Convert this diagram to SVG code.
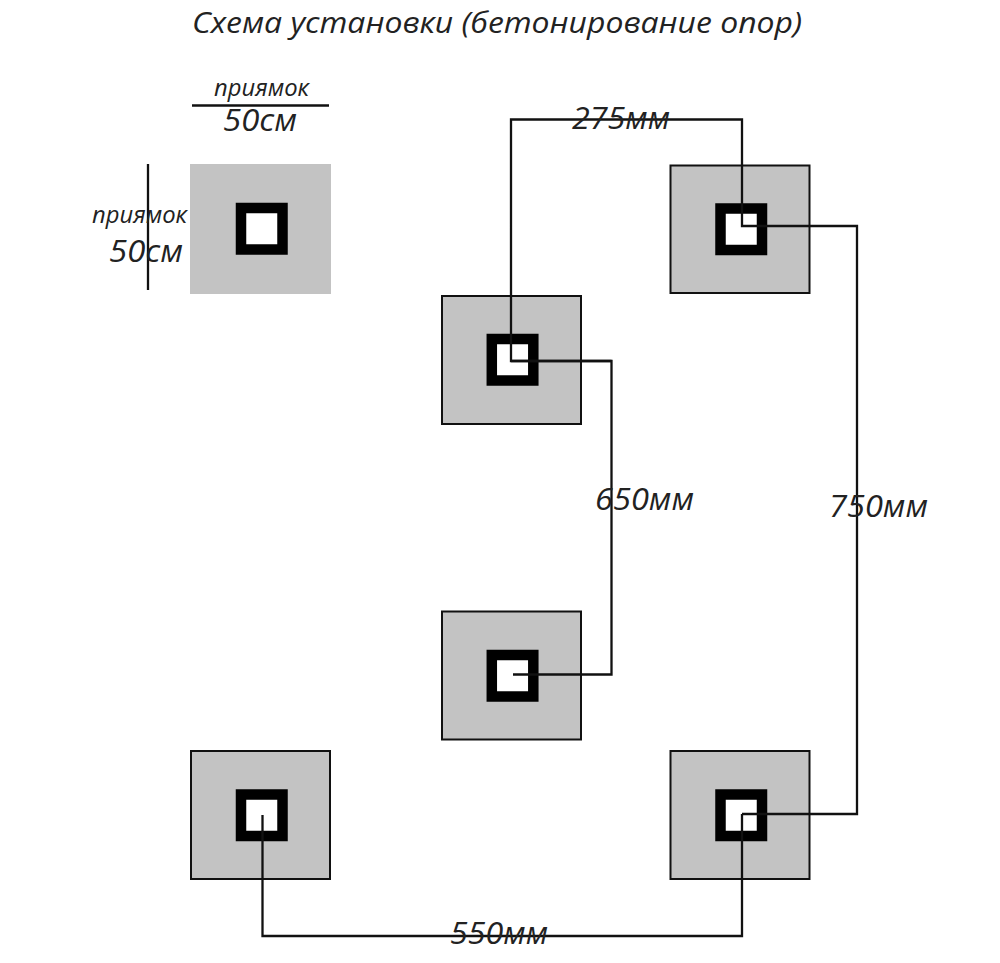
<svg xmlns="http://www.w3.org/2000/svg" width="1000" height="963" viewBox="0 0 1000 963">
<style>
.pad{fill:#c3c3c3;stroke:#111;stroke-width:2}
.pad0{fill:#c3c3c3}
.post{fill:#fff;stroke:#000;stroke-width:10.5}
.wire{fill:none;stroke:#111;stroke-width:2.300}
text{font-family:"Open Sans","DejaVu Sans",sans-serif;font-style:italic;fill:#222}
.t{font-size:29px}
.s{font-size:23px}
.b{font-size:31px}
</style>
<rect width="1000" height="963" fill="#fff"/>
<g id="node-sample"><rect class="pad0" x="190" y="164" width="141" height="130"/><rect class="post" x="241" y="208" width="41.500" height="41.500"/></g>
<g id="node-top-right"><rect class="pad" x="670.500" y="165.500" width="139" height="127.500"/><rect class="post" x="720.500" y="208.500" width="41.500" height="41.500"/></g>
<g id="node-upper-mid"><rect class="pad" x="442" y="296" width="139" height="128"/><rect class="post" x="491.800" y="339" width="41.500" height="41.500"/></g>
<g id="node-lower-mid"><rect class="pad" x="442" y="611.500" width="139" height="128"/><rect class="post" x="491.800" y="655" width="41.500" height="41.500"/></g>
<g id="node-bottom-left"><rect class="pad" x="191" y="751" width="139" height="128"/><rect class="post" x="241" y="794.500" width="41.500" height="41.500"/></g>
<g id="node-bottom-right"><rect class="pad" x="670.500" y="751" width="139" height="128"/><rect class="post" x="720.500" y="794.500" width="41.500" height="41.500"/></g>
<g id="connectors">
<path class="wire" d="M611.500 361H511V119.500H742V226H857V814H742"/>
<path class="wire" d="M511 361H611.500V674.500H513"/>
<path class="wire" d="M742 814V936H262.500V815"/>
<path class="wire" d="M192 105.500H329"/>
<path class="wire" d="M148 164V290"/>
</g>
<g id="labels">
<text class="t" x="192" y="33" textLength="610" lengthAdjust="spacingAndGlyphs">Схема установки (бетонирование опор)</text>
<text class="s" x="214" y="96" textLength="95" lengthAdjust="spacingAndGlyphs">приямок</text>
<text class="b" x="223" y="131" textLength="74" lengthAdjust="spacingAndGlyphs">50см</text>
<text class="s" x="92" y="223" textLength="95" lengthAdjust="spacingAndGlyphs">приямок</text>
<text class="b" x="109" y="262" textLength="74" lengthAdjust="spacingAndGlyphs">50см</text>
<text class="b" x="572" y="129" textLength="98" lengthAdjust="spacingAndGlyphs">275мм</text>
<text class="b" x="595" y="510" textLength="99" lengthAdjust="spacingAndGlyphs">650мм</text>
<text class="b" x="829" y="517" textLength="99" lengthAdjust="spacingAndGlyphs">750мм</text>
<text class="b" x="450" y="944" textLength="98" lengthAdjust="spacingAndGlyphs">550мм</text>
</g>
</svg>
